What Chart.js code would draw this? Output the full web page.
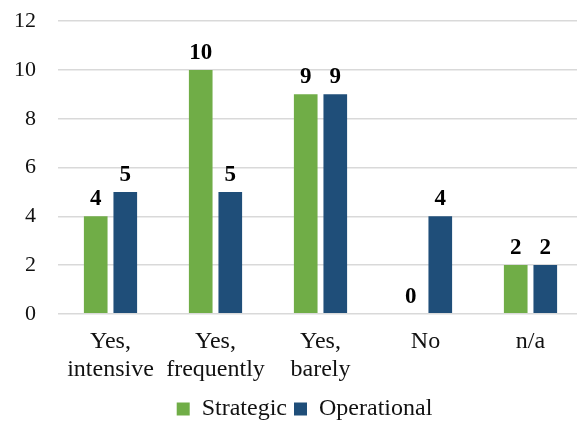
<!DOCTYPE html>
<html>
<head>
<meta charset="utf-8">
<script src="https://cdn.jsdelivr.net/npm/chart.js@4/dist/chart.umd.min.js"></script>
<style>
  html, body { margin: 0; padding: 0; background: #fff; overflow: hidden; }
  #wrap { position: relative; width: 577px; height: 421px; overflow: hidden; }
  #chart { position: absolute; left: -42px; top: -14px; }
</style>
</head>
<body>
<div id="wrap"><canvas id="chart" width="625" height="435"></canvas></div>
<script>
// Categories and values per series
const categories = [["Yes,", "intensive"], ["Yes,", "frequently"], ["Yes,", "barely"], "No", "n/a"];
const strategic = [4, 10, 9, 0, 2];
const operational = [5, 5, 9, 4, 2];
const yTicks = [0, 2, 4, 6, 8, 10, 12];

const serif = "'Liberation Serif', 'Times New Roman', serif";

// Bold value labels drawn above each bar
const valueLabels = {
  id: 'valueLabels',
  afterDatasetsDraw(chart) {
    const ctx = chart.ctx;
    ctx.save();
    ctx.font = "bold 23px " + serif;
    ctx.fillStyle = '#000';
    ctx.textAlign = 'center';
    ctx.textBaseline = 'alphabetic';
    chart.data.datasets.forEach((ds, i) => {
      const meta = chart.getDatasetMeta(i);
      meta.data.forEach((bar, j) => {
        ctx.fillText(String(ds.data[j]), bar.x, bar.y - 11);
      });
    });
    ctx.restore();
  }
};

// Nudge the legend row a little to the right of the plot centre
const legendShift = {
  id: 'legendShift',
  afterLayout(chart) {
    const lg = chart.legend;
    if (lg) { lg.left += 17; lg.right += 17; }
  }
};

new Chart(document.getElementById('chart'), {
  type: 'bar',
  data: {
    labels: categories,
    datasets: [
      { label: 'Strategic', data: strategic, backgroundColor: '#70AD47', barPercentage: 0.8, categoryPercentage: 0.563 },
      { label: 'Operational', data: operational, backgroundColor: '#1F4E79', barPercentage: 0.8, categoryPercentage: 0.563 }
    ]
  },
  options: {
    responsive: false,
    animation: false,
    layout: { padding: { left: 34, right: 0, top: 0, bottom: -10 } },
    scales: {
      x: {
        afterFit(axis) { axis.paddingLeft = 0; axis.paddingRight = 0; },
        grid: { display: false },
        border: { display: false },
        ticks: { color: '#111', font: { family: serif, size: 24, lineHeight: 1.17 }, padding: 6, maxRotation: 0, autoSkip: false }
      },
      y: {
        min: 0, max: 12,
        afterBuildTicks(axis) { axis.ticks = yTicks.map(v => ({ value: v })); },
        grid: { color: '#d9d9d9', lineWidth: 1.5, drawTicks: false },
        border: { display: false },
        ticks: { color: '#111', font: { family: serif, size: 22 }, padding: 22 }
      }
    },
    plugins: {
      legend: {
        position: 'bottom',
        labels: {
          color: '#111',
          font: { family: serif, size: 24 },
          boxWidth: 13, boxHeight: 13, padding: 7, useBorderRadius: false
        }
      },
      tooltip: { enabled: false }
    }
  },
  plugins: [valueLabels, legendShift]
});
</script>
</body>
</html>
